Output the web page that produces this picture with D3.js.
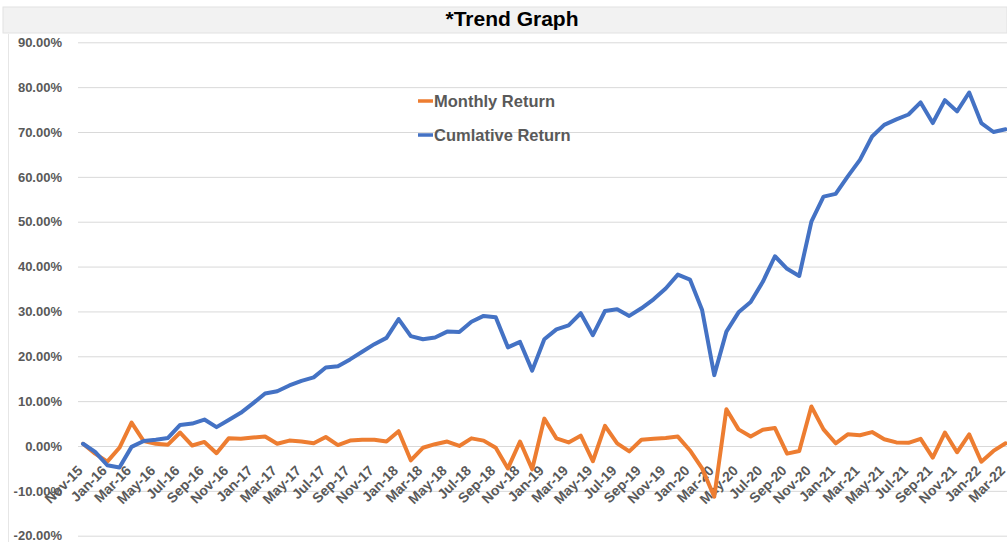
<!DOCTYPE html>
<html>
<head>
<meta charset="utf-8">
<script src="https://cdn.jsdelivr.net/npm/d3@7"></script>
<style>
  body { margin: 0; background: #fff; }
  svg { display: block; font-family: "Liberation Sans", Arial, sans-serif; }
</style>
</head>
<body>
<svg id="chart" width="1007" height="542"></svg>
<script>
// categories (monthly, Nov-15 .. Mar-22)
const months = [
  "Nov-15","Dec-15",
  "Jan-16","Feb-16","Mar-16","Apr-16","May-16","Jun-16","Jul-16","Aug-16","Sep-16","Oct-16","Nov-16","Dec-16",
  "Jan-17","Feb-17","Mar-17","Apr-17","May-17","Jun-17","Jul-17","Aug-17","Sep-17","Oct-17","Nov-17","Dec-17",
  "Jan-18","Feb-18","Mar-18","Apr-18","May-18","Jun-18","Jul-18","Aug-18","Sep-18","Oct-18","Nov-18","Dec-18",
  "Jan-19","Feb-19","Mar-19","Apr-19","May-19","Jun-19","Jul-19","Aug-19","Sep-19","Oct-19","Nov-19","Dec-19",
  "Jan-20","Feb-20","Mar-20","Apr-20","May-20","Jun-20","Jul-20","Aug-20","Sep-20","Oct-20","Nov-20","Dec-20",
  "Jan-21","Feb-21","Mar-21","Apr-21","May-21","Jun-21","Jul-21","Aug-21","Sep-21","Oct-21","Nov-21","Dec-21",
  "Jan-22","Feb-22","Mar-22"
];

// values in percent
const monthlyReturn = [
  0.5, -1.7,
  -3.5, -0.4, 5.2, 1.1, 0.5, 0.3, 3.0, 0.1, 0.9, -1.6, 1.7, 1.6,
  1.9, 2.1, 0.5, 1.2, 1.0, 0.6, 2.0, 0.2, 1.2, 1.4, 1.4, 1.0,
  3.3, -3.2, -0.4, 0.4, 1.0, 0.0, 1.7, 1.2, -0.4, -5.0, 1.0, -5.2,
  6.1, 1.7, 0.8, 2.3, -3.4, 4.5, 0.6, -1.2, 1.4, 1.6, 1.8, 2.1,
  -1.0, -5.0, -11.3, 8.2, 3.7, 2.1, 3.6, 4.0, -1.7, -1.1, 8.8, 3.7,
  0.6, 2.6, 2.4, 3.1, 1.5, 0.8, 0.7, 1.6, -2.6, 3.0, -1.4, 2.6,
  -3.5, -1.1, 0.6
];

const cumulativeReturn = [
  0.5, -1.3,
  -4.3, -4.8, -0.2, 1.1, 1.4, 1.8, 4.7, 5.0, 5.9, 4.2, 5.8, 7.4,
  9.5, 11.7, 12.2, 13.5, 14.5, 15.3, 17.5, 17.8, 19.3, 21.0, 22.7, 24.1,
  28.3, 24.5, 23.8, 24.2, 25.5, 25.4, 27.7, 29.0, 28.7, 22.0, 23.2, 16.8,
  23.8, 26.0, 26.9, 29.6, 24.7, 30.1, 30.5, 29.0, 30.7, 32.7, 35.1, 38.2,
  37.1, 30.3, 15.8, 25.5, 29.8, 32.1, 36.6, 42.3, 39.5, 37.9, 50.0, 55.6,
  56.2, 60.1, 63.8, 69.0, 71.6, 72.8, 73.9, 76.6, 72.0, 77.1, 74.6, 78.8,
  72.0, 70.0, 70.6
];

const yTicks = [-20, -10, 0, 10, 20, 30, 40, 50, 60, 70, 80, 90];

const seriesNames = ["Monthly Return", "Cumlative Return"];
const seriesColors = ["#ED7D31", "#4472C4"];

const width = 1007, height = 542;
const svg = d3.select("#chart");

// title band
svg.append("rect")
  .attr("x", 3).attr("y", 7)
  .attr("width", width - 3).attr("height", 26)
  .attr("fill", "#f2f2f2")
  .attr("stroke", "#e2e2e2");

svg.append("text")
  .attr("x", 512).attr("y", 26)
  .attr("text-anchor", "middle")
  .style("font-size", "21px")
  .style("font-weight", "bold")
  .attr("fill", "#000")
  .text("*Trend Graph");

// faint chart border on the left
svg.append("line")
  .attr("x1", 8.5).attr("x2", 8.5)
  .attr("y1", 34).attr("y2", height)
  .attr("stroke", "#e6e6e6");

const x = d3.scalePoint()
  .domain(months)
  .range([83, 1005.6]);

const y = d3.scaleLinear()
  .domain([-20, 90])
  .range([535.7, 42.3]);

// gridlines + y labels
const yAxis = d3.axisLeft(y)
  .tickValues(yTicks)
  .tickSize(-(width - 78))
  .tickPadding(16)
  .tickFormat(d => d.toFixed(2) + "%");

const gy = svg.append("g")
  .attr("transform", "translate(78,0)")
  .call(yAxis);
gy.select(".domain").remove();
gy.selectAll(".tick line").attr("stroke", "#d9d9d9").attr("stroke-width", 1);
gy.selectAll(".tick text")
  .attr("fill", "#595959")
  .style("font-size", "13px")
  .style("font-weight", "bold");

// x labels, every other month, rotated
const xLabels = months.filter((m, i) => i % 2 === 0);
svg.append("g")
  .selectAll("text")
  .data(xLabels)
  .enter().append("text")
  .attr("transform", d => "translate(" + (x(d) - 3) + ",468) rotate(-45)")
  .attr("text-anchor", "end")
  .attr("dy", "0.35em")
  .attr("fill", "#595959")
  .style("font-size", "14px")
  .style("font-weight", "bold")
  .text(d => d);

// lines
const line = d3.line()
  .x(d => x(d.m))
  .y(d => y(d.v));

[monthlyReturn, cumulativeReturn].forEach((vals, k) => {
  svg.append("path")
    .datum(months.map((m, i) => ({ m: m, v: vals[i] })))
    .attr("d", line)
    .attr("fill", "none")
    .attr("stroke", seriesColors[k])
    .attr("stroke-width", 4)
    .attr("stroke-linejoin", "round")
    .attr("stroke-linecap", "round");
});

// legend
const legend = svg.selectAll(".legend")
  .data(seriesNames)
  .enter().append("g")
  .attr("class", "legend")
  .attr("transform", (d, i) => "translate(418," + (101 + i * 34) + ")");

legend.append("line")
  .attr("x1", 0).attr("x2", 15)
  .attr("stroke", (d, i) => seriesColors[i])
  .attr("stroke-width", 3.5);

legend.append("text")
  .attr("x", 16)
  .attr("dy", "0.35em")
  .attr("fill", "#595959")
  .style("font-size", "16.5px")
  .style("font-weight", "bold")
  .text(d => d);
</script>
</body>
</html>
